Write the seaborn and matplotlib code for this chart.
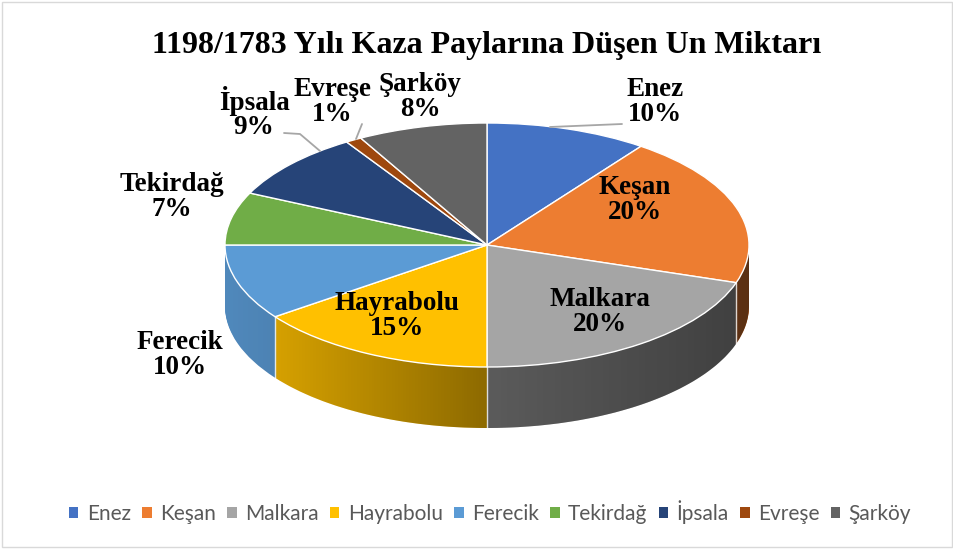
import numpy as np
import matplotlib
matplotlib.use("Agg")
import matplotlib.pyplot as plt
import seaborn as sns
from matplotlib.patches import Polygon, Rectangle

# ---- data ----
categories = ["Enez", "Keşan", "Malkara", "Hayrabolu", "Ferecik", "Tekirdağ", "İpsala", "Evreşe", "Şarköy"]
shares = [10, 20, 20, 15, 10, 7, 9, 1, 8]
colors = ["#4472C4", "#ED7D31", "#A5A5A5", "#FFC000", "#5B9BD5", "#70AD47", "#264478", "#9E480E", "#636363"]
title = "1198/1783 Yılı Kaza Paylarına Düşen Un Miktarı"

# label anchor positions in pixels (x from left, y from top) -- layout only
label_px = [(655, 102), (635, 200), (600, 312), (397, 316), (180, 355),
            (172, 197), (254, 113), (332, 102), (420, 97)]
# leader polylines in pixels -- layout only
leaders = {
    "Enez": [(622, 124), (550, 127)],
    "İpsala": [(284, 133), (300, 134), (320, 151)],
    "Evreşe": [(362, 124), (356, 139)],
}

sns.set_theme(style="white")
plt.rcParams["font.family"] = ["Liberation Serif", "DejaVu Serif"]

W, H = 954, 549
fig = plt.figure(figsize=(W / 100, H / 100), dpi=100)
ax = fig.add_axes([0, 0, 1, 1])

cx, cy, rx, ry = 487, 245, 262, 122
depth = 61 / ry
xlim = (-cx / rx, (W - cx) / rx)
ylim = (-(H - cy) / ry, cy / ry)

def px2data(px, py):
    return ((px - cx) / rx, (cy - py) / ry)

# wall: stacked copies of the pie
n = 64
for k in range(n, 0, -1):
    ax.pie(shares, colors=colors, startangle=90, counterclock=False,
           center=(0, -depth * k / n), radius=1,
           wedgeprops=dict(linewidth=0, zorder=1, antialiased=True))

# lighting gradient on the wall
t = np.linspace(-1, 1, 512)
alpha = np.interp(t, [-1, -0.85, 0, 1], [0.12, 0.15, 0.45, 0.62])
grad = np.zeros((1, 512, 4))
grad[..., 3] = alpha
ang = np.linspace(np.pi, 2 * np.pi, 200)
poly_pts = np.vstack([np.column_stack([np.cos(ang), np.sin(ang)]),
                      np.column_stack([np.cos(ang[::-1]), np.sin(ang[::-1]) - depth])])
clip = Polygon(poly_pts, closed=True, transform=ax.transData, facecolor="none", edgecolor="none")
ax.add_patch(clip)
im = ax.imshow(grad, extent=(-1, 1, -1 - depth, 0.2), aspect="auto", zorder=2, interpolation="bilinear")
im.set_clip_path(clip)

# slice separators on the wall
bounds = np.deg2rad(90 - 360 * np.cumsum(shares) / np.sum(shares))
for b in bounds:
    if np.sin(b) < -0.05:
        ax.plot([np.cos(b), np.cos(b)], [np.sin(b), np.sin(b) - depth],
                color="white", lw=1, alpha=0.8, zorder=3)

# top face
wedges, _ = ax.pie(shares, colors=colors, startangle=90, counterclock=False,
                   center=(0, 0), radius=1,
                   wedgeprops=dict(edgecolor="white", linewidth=1, zorder=4))

ax.set_aspect("auto")
ax.set_xlim(*xlim)
ax.set_ylim(*ylim)
ax.set_axis_off()

# labels
for i, (cat, v) in enumerate(zip(categories, shares)):
    lx, ly = px2data(*label_px[i])
    ax.text(lx, ly, f"{cat}\n{v}%", ha="center", va="center", fontsize=19.5,
            fontweight="bold", color="black", linespacing=1.0, zorder=6)
    if cat in leaders:
        pts = np.array([px2data(*p) for p in leaders[cat]])
        ax.plot(pts[:, 0], pts[:, 1], color="#a6a6a6", lw=1.3, zorder=5)

# title
fig.text(cx / W, 1 - 45 / H, title, ha="center", va="center", fontsize=23,
         fontweight="bold", color="black")

# legend
leg = fig.legend(wedges, categories, loc="center", bbox_to_anchor=(490 / W, 1 - 512 / H),
                 ncol=9, frameon=False, handlelength=0.45, handleheight=0.45,
                 handletextpad=0.4, columnspacing=0.55,
                 prop={"family": ["Lato", "DejaVu Sans"], "size": 15})
for txt in leg.get_texts():
    txt.set_color("#595959")
for h in leg.legend_handles:
    h.set_edgecolor("none")

# chart border
fig.patches.append(Rectangle((2 / W, 2 / H), (W - 4) / W, (H - 4) / H, transform=fig.transFigure,
                             facecolor="none", edgecolor="#d9d9d9", lw=1))

fig.savefig("out.png", dpi=100, facecolor="white")
